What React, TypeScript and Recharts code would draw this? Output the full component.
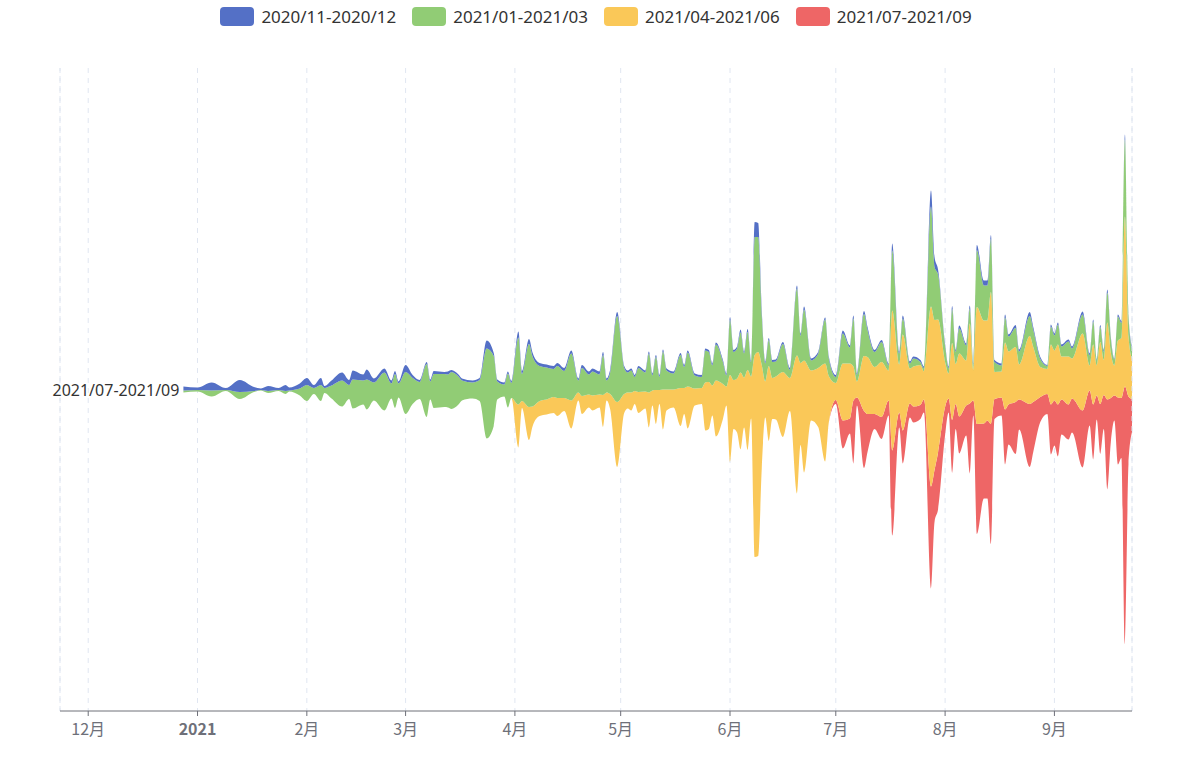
import React from 'react';
import { AreaChart, Area, XAxis, YAxis, CartesianGrid, ReferenceLine, ReferenceDot } from 'recharts';

// Theme river: one row per day, layer thickness per cohort
const dates = [
  '2020-12-28', '2021-01-01', '2021-01-05', '2021-01-09', '2021-01-13', '2021-01-17', '2021-01-19', '2021-01-21',
  '2021-01-24', '2021-01-26', '2021-01-27', '2021-01-30', '2021-02-01', '2021-02-03', '2021-02-05', '2021-02-06',
  '2021-02-08', '2021-02-11', '2021-02-13', '2021-02-14', '2021-02-17', '2021-02-18', '2021-02-20', '2021-02-23',
  '2021-02-25', '2021-02-26', '2021-02-27', '2021-03-01', '2021-03-03', '2021-03-05', '2021-03-07', '2021-03-08',
  '2021-03-09', '2021-03-12', '2021-03-13', '2021-03-14', '2021-03-16', '2021-03-17', '2021-03-20', '2021-03-22',
  '2021-03-24', '2021-03-26', '2021-03-27', '2021-03-29', '2021-03-30', '2021-03-31', '2021-04-02', '2021-04-03',
  '2021-04-05', '2021-04-06', '2021-04-08', '2021-04-10', '2021-04-12', '2021-04-13', '2021-04-15', '2021-04-17',
  '2021-04-19', '2021-04-20', '2021-04-22', '2021-04-23', '2021-04-25', '2021-04-26', '2021-04-27', '2021-04-28',
  '2021-04-30', '2021-05-02', '2021-05-03', '2021-05-04', '2021-05-05', '2021-05-06', '2021-05-08', '2021-05-09',
  '2021-05-10', '2021-05-11', '2021-05-12', '2021-05-13', '2021-05-14', '2021-05-16', '2021-05-18', '2021-05-19',
  '2021-05-20', '2021-05-22', '2021-05-24', '2021-05-25', '2021-05-26', '2021-05-27', '2021-05-28', '2021-05-30',
  '2021-05-31', '2021-06-01', '2021-06-02', '2021-06-03', '2021-06-04', '2021-06-05', '2021-06-06', '2021-06-07',
  '2021-06-08', '2021-06-09', '2021-06-10', '2021-06-11', '2021-06-12', '2021-06-13', '2021-06-14', '2021-06-16',
  '2021-06-18', '2021-06-20', '2021-06-21', '2021-06-22', '2021-06-24', '2021-06-26', '2021-06-28', '2021-06-29',
  '2021-07-01', '2021-07-03', '2021-07-05', '2021-07-06', '2021-07-07', '2021-07-09', '2021-07-10', '2021-07-12',
  '2021-07-14', '2021-07-16', '2021-07-17', '2021-07-19', '2021-07-20', '2021-07-22', '2021-07-23', '2021-07-25',
  '2021-07-26', '2021-07-28', '2021-07-29', '2021-07-30', '2021-08-01', '2021-08-02', '2021-08-03', '2021-08-04',
  '2021-08-05', '2021-08-07', '2021-08-08', '2021-08-09', '2021-08-10', '2021-08-12', '2021-08-13', '2021-08-14',
  '2021-08-15', '2021-08-17', '2021-08-18', '2021-08-19', '2021-08-21', '2021-08-22', '2021-08-25', '2021-08-26',
  '2021-08-28', '2021-08-30', '2021-08-31', '2021-09-01', '2021-09-02', '2021-09-03', '2021-09-05', '2021-09-06',
  '2021-09-09', '2021-09-11', '2021-09-12', '2021-09-13', '2021-09-14', '2021-09-15', '2021-09-16', '2021-09-17',
  '2021-09-18', '2021-09-19', '2021-09-20', '2021-09-21', '2021-09-22', '2021-09-23',
];

const cohort2011 = [
  4, 2.5, 8, 2, 12, 4, 1.5, 5, 2, 6, 3, 5, 7, 3, 7, 2,
  5, 8, 5, 9, 6, 10, 4, 4, 3, 3, 2, 7, 3, 2, 2, 2,
  3, 2, 3, 2, 2, 2, 2, 2, 8, 3, 2, 2, 2, 2, 6, 3,
  5, 4, 3, 3, 3, 3, 3, 3, 2, 3, 3, 3, 3, 3, 2, 3,
  4, 2, 2, 2, 2, 2, 2, 2, 2, 2, 2, 2, 2, 2, 2, 2,
  2, 2, 2, 2, 2, 2, 2, 2, 2, 3, 2, 2, 3, 2, 3, 2,
  15, 14, 5, 2, 2, 2, 2, 2, 2, 3, 2, 3, 2, 2, 2, 2,
  2, 3, 2, 3, 2, 3, 3, 2, 2, 2, 7, 2, 3, 2, 2, 2,
  2, 16, 10, 5, 2, 2, 3, 2, 3, 2, 3, 2, 5, 5, 5, 4,
  2, 2, 3, 2, 3, 2, 4, 3, 2, 1, 2, 2, 2, 2, 2, 2,
  3, 2, 2, 1, 2, 2, 3, 2, 1, 2, 2, 5, 2, 2,
];

const cohort2101 = [
  2, 1.5, 6, 1, 7, 1, 0.5, 2, 1, 3, 1, 7, 16, 6, 16, 5,
  13, 26, 14, 29, 24, 30, 18, 38, 15, 34, 14, 42, 26, 17, 53, 18,
  34, 33, 33, 37, 28, 20, 16, 21, 90, 70, 18, 12, 34, 15, 67, 27,
  63, 50, 35, 32, 28, 32, 27, 47, 12, 28, 20, 24, 20, 40, 12, 21,
  86, 26, 20, 22, 14, 24, 19, 39, 15, 33, 13, 38, 19, 16, 33, 21,
  34, 13, 11, 32, 30, 20, 36, 22, 11, 55, 28, 30, 40, 24, 38, 14,
  118, 115, 50, 18, 26, 16, 15, 28, 8, 67, 27, 51, 10, 14, 44, 18,
  6, 30, 16, 48, 6, 42, 27, 15, 20, 5, 60, 11, 16, 5, 8, 3,
  3, 100, 53, 45, 16, 5, 34, 12, 25, 15, 15, 5, 57, 35, 35, 53,
  10, 6, 25, 15, 19, 13, 20, 17, 8, 3, 18, 15, 20, 10, 15, 10,
  19, 10, 23, 5, 15, 8, 30, 14, 6, 24, 15, 77, 20, 10,
];

const cohort2104 = [
  0, 0, 0, 0, 0, 0, 0, 0, 0, 0, 0, 0, 0, 0, 0, 0,
  0, 0, 0, 0, 0, 0, 0, 0, 0, 0, 0, 0, 0, 0, 0, 0,
  0, 0, 0, 0, 0, 0, 0, 0, 0, 0, 0, 0, 0, 0, 43, 7,
  33, 20, 15, 15, 16, 18, 13, 28, 8, 18, 13, 15, 13, 32, 8, 15,
  65, 19, 16, 18, 13, 21, 17, 35, 15, 34, 14, 40, 21, 18, 38, 26,
  42, 17, 16, 48, 47, 30, 56, 35, 19, 87, 49, 54, 77, 50, 80, 42,
  202, 204, 104, 36, 75, 41, 43, 65, 33, 138, 82, 112, 50, 59, 98, 47,
  17, 57, 55, 34, 16, 55, 57, 47, 55, 30, 140, 48, 96, 35, 40, 40,
  28, 180, 150, 133, 45, 25, 77, 40, 63, 45, 80, 30, 117, 103, 100, 132,
  27, 26, 67, 53, 55, 35, 68, 55, 30, 25, 60, 50, 60, 43, 48, 40,
  77, 25, 60, 30, 62, 35, 77, 45, 30, 57, 60, 170, 60, 40,
];

const cohort2107 = [
  0, 0, 0, 0, 0, 0, 0, 0, 0, 0, 0, 0, 0, 0, 0, 0,
  0, 0, 0, 0, 0, 0, 0, 0, 0, 0, 0, 0, 0, 0, 0, 0,
  0, 0, 0, 0, 0, 0, 0, 0, 0, 0, 0, 0, 0, 0, 0, 0,
  0, 0, 0, 0, 0, 0, 0, 0, 0, 0, 0, 0, 0, 0, 0, 0,
  0, 0, 0, 0, 0, 0, 0, 0, 0, 0, 0, 0, 0, 0, 0, 0,
  0, 0, 0, 0, 0, 0, 0, 0, 0, 0, 0, 0, 0, 0, 0, 0,
  0, 0, 0, 0, 0, 0, 0, 0, 0, 0, 0, 0, 0, 0, 0, 0,
  4, 28, 15, 63, 8, 57, 38, 15, 22, 15, 85, 15, 33, 14, 16, 14,
  13, 102, 52, 57, 28, 14, 53, 25, 37, 30, 70, 15, 110, 75, 78, 120,
  20, 18, 55, 40, 52, 30, 63, 50, 25, 20, 50, 45, 52, 35, 35, 34,
  57, 35, 55, 24, 50, 34, 90, 44, 25, 67, 60, 258, 68, 33,
];

const seriesNames = ['2020/11-2020/12', '2021/01-2021/03', '2021/04-2021/06', '2021/07-2021/09'];
const seriesColors = ['#5470C6', '#91CC75', '#FAC858', '#EE6666'];
const monthTicks = [
  '2020-12-01', '2021-01-01', '2021-02-01', '2021-03-01', '2021-04-01',
  '2021-05-01', '2021-06-01', '2021-07-01', '2021-08-01', '2021-09-01',
];
const axisStart = '2020-11-23';
const axisEnd = '2021-09-23';

const toTime = (d: string) => Date.parse(d + 'T00:00:00Z');

const rows = dates.map((d, i) => ({
  t: toTime(d),
  s0: cohort2011[i],
  s1: cohort2101[i],
  s2: cohort2104[i],
  s3: cohort2107[i],
}));

const MonthTick = (props: any) => {
  const { x, y, payload } = props;
  const dt = new Date(payload.value);
  const m = dt.getUTCMonth();
  const isYear = m === 0;
  const text = isYear ? String(dt.getUTCFullYear()) : `${m + 1}月`;
  return (
    <text
      x={x}
      y={y + 17}
      textAnchor="middle"
      fill="#6E7079"
      fontSize={16}
      fontWeight={isYear ? 700 : 400}
      fontFamily="'Noto Sans CJK SC', 'Noto Sans', sans-serif"
    >
      {text}
    </text>
  );
};

const RiverLabel = (props: any) => (
  <text
    x={props.cx - 4}
    y={props.cy}
    textAnchor="end"
    dominantBaseline="central"
    fontSize={16}
    fontFamily="'Noto Sans', sans-serif"
    fill="#333"
    stroke="#fff"
    strokeWidth={3}
    paintOrder="stroke"
  >
    {seriesNames[3]}
  </text>
);

const App: React.FC = () => {
  const gridStroke = '#E0E6F1';
  return (
    <div style={{ position: 'absolute', left: 0, top: 0, width: 1192, height: 779, background: '#fff' }}>
      {/* legend */}
      <div
        style={{
          position: 'absolute',
          top: 7,
          left: 0,
          width: 1192,
          display: 'flex',
          justifyContent: 'center',
          gap: 16,
          fontFamily: "'Noto Sans', sans-serif",
          fontSize: 17,
          color: '#333',
        }}
      >
        {seriesNames.map((name, i) => (
          <div key={name} style={{ display: 'flex', alignItems: 'center', height: 19 }}>
            <span style={{ width: 34, height: 19, borderRadius: 4, background: seriesColors[i], display: 'inline-block' }} />
            <span style={{ marginLeft: 7, lineHeight: '19px' }}>{name}</span>
          </div>
        ))}
      </div>

      <div style={{ position: 'absolute', left: 0, top: 0 }}>
        <AreaChart
          width={1192}
          height={779}
          data={rows}
          stackOffset="silhouette"
          margin={{ top: 68, right: 60, bottom: 38, left: 60 }}
        >
          <CartesianGrid vertical horizontal={false} stroke={gridStroke} strokeDasharray="5 5" />
          <XAxis
            dataKey="t"
            type="number"
            scale="time"
            domain={[toTime(axisStart), toTime(axisEnd)]}
            ticks={monthTicks.map(toTime)}
            interval={0}
            height={30}
            tick={<MonthTick />}
            tickSize={5}
            axisLine={{ stroke: '#6E7079' }}
            tickLine={{ stroke: '#6E7079' }}
          />
          <YAxis hide type="number" domain={[-321.5, 321.5]} allowDataOverflow />
          <ReferenceLine x={toTime(axisStart)} stroke={gridStroke} strokeDasharray="5 5" />
          <ReferenceLine x={toTime(axisEnd)} stroke={gridStroke} strokeDasharray="5 5" />
          {[3, 2, 1, 0].map((i) => (
            <Area
              key={i}
              type="monotone"
              dataKey={`s${i}`}
              name={seriesNames[i]}
              stackId="river"
              stroke="none"
              fill={seriesColors[i]}
              fillOpacity={1}
              dot={false}
              activeDot={false}
              isAnimationActive={false}
            />
          ))}
          <ReferenceDot x={toTime(dates[0])} y={0} r={0} shape={<RiverLabel />} />
        </AreaChart>
      </div>
    </div>
  );
};

export default App;
